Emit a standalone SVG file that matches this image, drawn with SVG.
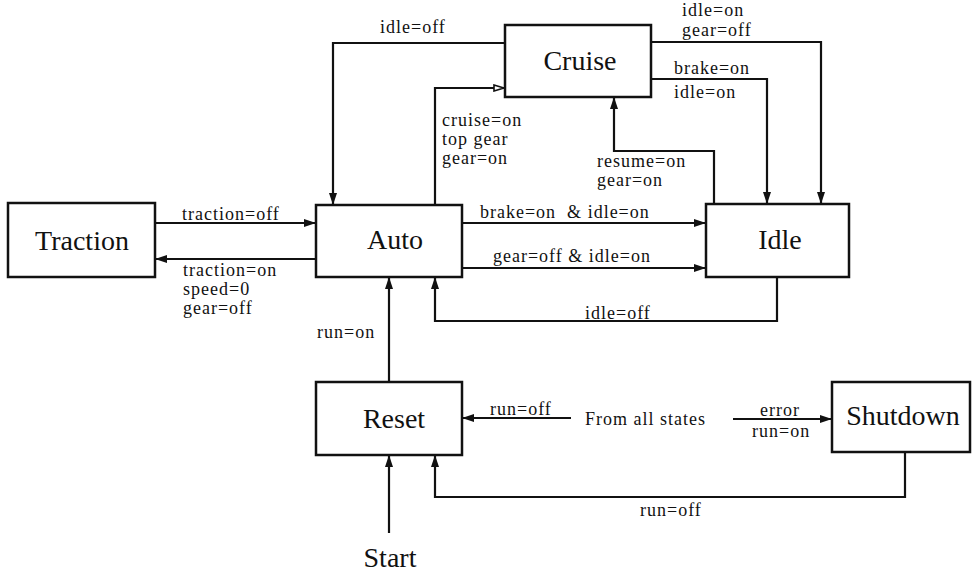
<svg xmlns="http://www.w3.org/2000/svg" width="972" height="577" viewBox="0 0 972 577">
  <style>
    .box { fill: #fff; stroke: #111; stroke-width: 2.5; }
    .name { font-family: "Liberation Serif", "Times New Roman", serif; font-size: 28px; fill: #111; text-anchor: middle; }
    .lbl { font-family: "Liberation Serif", "Times New Roman", serif; font-size: 18px; letter-spacing: 1px; fill: #111; }
    .wire { fill: none; stroke: #111; stroke-width: 2.2; }
    .arrow { marker-end: url(#head); }
    .arrow-open { marker-end: url(#head-open); }
  </style>
  <defs>
    <marker id="head" viewBox="0 0 12 8" refX="12" refY="4" markerWidth="12" markerHeight="8" markerUnits="userSpaceOnUse" orient="auto">
      <path d="M0,0 L12,4 L0,8 Z" fill="#111"/>
    </marker>
    <marker id="head-open" viewBox="0 0 12 8" refX="12" refY="4" markerWidth="12" markerHeight="8" markerUnits="userSpaceOnUse" orient="auto">
      <path d="M1,1 L11,4 L1,7 Z" fill="#fff" stroke="#111" stroke-width="1.6"/>
    </marker>
  </defs>
  <rect width="972" height="577" fill="#fff"/>

  <!-- transitions -->
  <g id="connectors">
    <path class="wire arrow" d="M505,43 H333 V205"/>
    <path class="wire arrow-open" d="M435,205 V88 H505"/>
    <path class="wire arrow" d="M651,42 H821 V204"/>
    <path class="wire arrow" d="M651,79 H767 V204"/>
    <path class="wire arrow" d="M714,204 V151 H614 V97"/>
    <path class="wire arrow" d="M155,223 H316"/>
    <path class="wire arrow" d="M316,259 H155"/>
    <path class="wire arrow" d="M462,223 H706"/>
    <path class="wire arrow" d="M462,268 H706"/>
    <path class="wire arrow" d="M777,277 V321 H435 V277"/>
    <path class="wire arrow" d="M389,382 V277"/>
    <path class="wire arrow" d="M571,418 H462"/>
    <path class="wire arrow" d="M733,419 H832"/>
    <path class="wire arrow" d="M389,533 V455"/>
    <path class="wire arrow" d="M905,452 V497 H435 V455"/>

    <text class="lbl" x="380" y="33">idle=off</text>
    <text class="lbl" x="682" y="16">idle=on</text>
    <text class="lbl" x="682" y="36">gear=off</text>
    <text class="lbl" x="674" y="74">brake=on</text>
    <text class="lbl" x="674" y="98">idle=on</text>
    <text class="lbl" x="442" y="126">cruise=on</text>
    <text class="lbl" x="442" y="145">top gear</text>
    <text class="lbl" x="442" y="164">gear=on</text>
    <text class="lbl" x="597" y="167">resume=on</text>
    <text class="lbl" x="597" y="186">gear=on</text>
    <text class="lbl" x="182" y="220">traction=off</text>
    <text class="lbl" x="183" y="276">traction=on</text>
    <text class="lbl" x="183" y="295">speed=0</text>
    <text class="lbl" x="183" y="314">gear=off</text>
    <text class="lbl" x="480" y="218" xml:space="preserve">brake=on  &amp; idle=on</text>
    <text class="lbl" x="493" y="262">gear=off &amp; idle=on</text>
    <text class="lbl" x="585" y="319">idle=off</text>
    <text class="lbl" x="317" y="338">run=on</text>
    <text class="lbl" x="490" y="415">run=off</text>
    <text class="lbl" x="585" y="425">From all states</text>
    <text class="lbl" x="760" y="416">error</text>
    <text class="lbl" x="752" y="437">run=on</text>
    <text class="lbl" x="640" y="516">run=off</text>
    <text class="name" x="390" y="567">Start</text>
  </g>

  <!-- states -->
  <g id="cruise">
    <rect class="box" x="505" y="25" width="146" height="72"/>
    <text class="name" x="580" y="70">Cruise</text>
  </g>
  <g id="traction">
    <rect class="box" x="8" y="203" width="147" height="74"/>
    <text class="name" x="82" y="250">Traction</text>
  </g>
  <g id="auto">
    <rect class="box" x="316" y="205" width="146" height="72"/>
    <text class="name" x="395" y="249">Auto</text>
  </g>
  <g id="idle">
    <rect class="box" x="706" y="204" width="143" height="73"/>
    <text class="name" x="780" y="249">Idle</text>
  </g>
  <g id="reset">
    <rect class="box" x="316" y="382" width="146" height="73"/>
    <text class="name" x="394" y="428">Reset</text>
  </g>
  <g id="shutdown">
    <rect class="box" x="832" y="382" width="138" height="70"/>
    <text class="name" x="903" y="425">Shutdown</text>
  </g>
</svg>
